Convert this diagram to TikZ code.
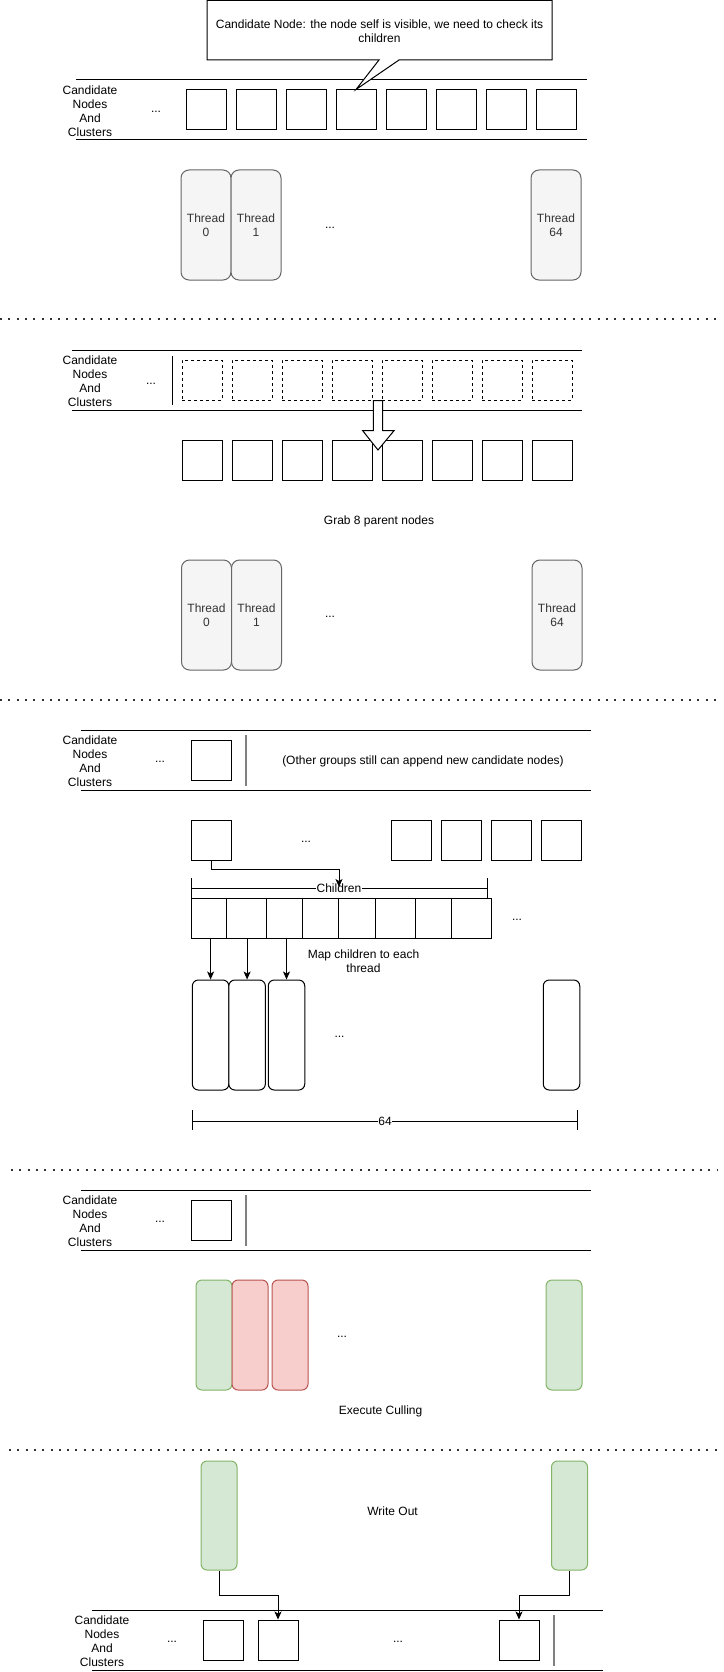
\documentclass[tikz,border=0pt]{standalone}
\usepackage{fontspec}
\setmainfont{Liberation Sans}
\usetikzlibrary{arrows.meta}
\definecolor{thrfill}{HTML}{F5F5F5}
\definecolor{thrline}{HTML}{666666}
\definecolor{thrtext}{HTML}{333333}
\definecolor{gfill}{HTML}{D5E8D4}
\definecolor{gline}{HTML}{82B366}
\definecolor{rfill}{HTML}{F8CECC}
\definecolor{rline}{HTML}{B85450}
\definecolor{barcol}{HTML}{808080}
\begin{document}
\begin{tikzpicture}[x=1pt,y=-1pt,line width=1pt,
  every node/.style={font=\fontsize{12}{14}\selectfont,inner sep=0pt},
  box/.style={draw,fill=white,minimum width=40pt,minimum height=40pt},
  dbox/.style={box,dash pattern=on 3pt off 3pt},
  thr/.style={draw=thrline,fill=thrfill,rounded corners=8pt,minimum width=50pt,minimum height=110pt,text=thrtext,align=center},
  wthr/.style={draw,fill=white,rounded corners=6pt,minimum width=36.5pt,minimum height=110pt},
  gthr/.style={draw=gline,fill=gfill,rounded corners=6pt,minimum width=36pt,minimum height=110pt},
  rthr/.style={draw=rline,fill=rfill,rounded corners=6pt,minimum width=36pt,minimum height=110pt},
  lab/.style={align=center},
  dotline/.style={black!80,line width=2pt,dash pattern=on 2pt off 6.3pt},
  bar/.style={barcol,line width=2pt},
  conn/.style={-{Stealth[length=8pt,width=7pt,inset=2pt]}},
  dimlab/.style={fill=white,inner sep=0.5pt}
]
\fill[white] (0,0) rectangle (723,1672);
\useasboundingbox (0,0) rectangle (723,1672);

% ---------------- Section 1
\draw (76,80) -- (587,80);
\draw (76,140) -- (587,140);
\node[lab] (lab1) at (90,111) {Candidate\\Nodes\\And\\Clusters};
\node (dt1) at (156,112) {...};
\foreach \k in {0,...,7} \node[box] (a\k) at ({206+50*\k},110) {};
\draw[fill=white] (207,0.5) -- (552,0.5) -- (552,60) -- (399,60) -- (a3.north) -- (379,60) -- (207,60) -- cycle;
\node[lab] (call) at (379.5,31) {Candidate Node: the node self is visible, we need to check its\\children};
\node[thr] (t10) at (206,225) {Thread\\0};
\node[thr] (t11) at (256,225) {Thread\\1};
\node[thr] (t164) at (556,225) {Thread\\64};
\node (dt2) at (330,228) {...};

\draw[dotline] (0,319) -- (720,319);

% ---------------- Section 2
\draw (72,350) -- (582,350);
\draw (72,410) -- (582,410);
\node[lab] (lab2) at (90,381) {Candidate\\Nodes\\And\\Clusters};
\node (dt3) at (151,384) {...};
\draw (172,356) -- (172,405);
\foreach \k in {0,...,7} \node[dbox] (d\k) at ({202+50*\k},380) {};
\foreach \k in {0,...,7} \node[box] (p\k) at ({202+50*\k},460) {};
\draw[fill=white,line join=miter] (373.3,400.5) -- (382.7,400.5) -- (382.7,430.7) -- (394,430.7) -- (378,450) -- (362.7,430.7) -- (373.3,430.7) -- cycle;
\node (grab) at (379,521) {Grab 8 parent nodes};
\node[thr] (t20) at (206.5,615) {Thread\\0};
\node[thr] (t21) at (256.5,615) {Thread\\1};
\node[thr] (t264) at (557,615) {Thread\\64};
\node (dt4) at (330,617) {...};

\draw[dotline] (0,700) -- (720,700);

% ---------------- Section 3
\draw (81,730) -- (591,730);
\draw (81,790) -- (591,790);
\node[lab] (lab3) at (90,761) {Candidate\\Nodes\\And\\Clusters};
\node (dt5) at (160,762) {...};
\node[box] (c0) at (211,760) {};
\draw[bar] (246,735) -- (246,786);
\node (other) at (423,761) {(Other groups still can append new candidate nodes)};
\node[box] (r0) at (211,840) {};
\node[box] (r1) at (411,840) {};
\node[box] (r2) at (461,840) {};
\node[box] (r3) at (511,840) {};
\node[box] (r4) at (561,840) {};
\node (dt6) at (306,842) {...};
% children dimension
\coordinate (chl) at (191,888);
\coordinate (chr) at (487,888);
\draw (191,878) -- (191,898);
\draw (487,878) -- (487,898);
\draw (chl) -- (chr);
\node[dimlab] (chlab) at (339,888) {Children};
\coordinate (chtip) at (339,887);
\draw[conn] (r0.south) -- (211,869.5) -| (chtip);
% children cells
\foreach \a/\b [count=\i] in {191/226.7,226.7/266.7,266.7/302.7,302.7/338.5,338.5/375,375/415,415/451,451/491}
  \node[draw,minimum height=40pt,minimum width={(\b-\a)*1pt}] (cell\i) at ({(\a+\b)/2},918) {};
\node (dt7) at (517,920) {...};
\node[lab] (map) at (363.5,961) {Map children to each\\thread};
\node[wthr] (w1) at (210.6,1035) {};
\node[wthr] (w2) at (247.1,1035) {};
\node[wthr] (w3) at (286.5,1035) {};
\node[wthr] (w64) at (561.5,1035) {};
\draw[conn] (w1.north |- cell1.south) -- (w1.north);
\draw[conn] (w2.north |- cell2.south) -- (w2.north);
\draw[conn] (w3.north |- cell3.south) -- (w3.north);
\node (dt8) at (339.5,1037) {...};
\coordinate (dl) at (192.6,1121);
\coordinate (dr) at (577,1121);
\draw (192.6,1110) -- (192.6,1130);
\draw (577,1110) -- (577,1130);
\draw (dl) -- (dr);
\node[dimlab] (n64) at (385,1121) {64};

\draw[dotline] (11,1170) -- (718,1170);

% ---------------- Section 4
\draw (81,1190) -- (591,1190);
\draw (81,1250) -- (591,1250);
\node[lab] (lab4) at (90,1221) {Candidate\\Nodes\\And\\Clusters};
\node (dt9) at (160,1222) {...};
\node[box] (e0) at (211,1220) {};
\draw[bar] (246,1195) -- (246,1246);
\node[gthr] (g1) at (214,1335) {};
\node[rthr] (x2) at (250,1335) {};
\node[rthr] (x3) at (290,1335) {};
\node[gthr] (g64) at (564,1335) {};
\node (dt10) at (342,1337) {...};
\node (cull) at (380.6,1411) {Execute Culling};

\draw[dotline] (9,1450) -- (718,1450);

% ---------------- Section 5
\node[gthr,minimum height=109pt] (o1) at (219,1515.5) {};
\node[gthr,minimum height=109pt] (o64) at (569.5,1515.5) {};
\node (wout) at (392.6,1511) {Write Out};
\draw (92,1610) -- (603,1610);
\draw (92,1670) -- (603,1670);
\node[lab] (lab5) at (102,1641) {Candidate\\Nodes\\And\\Clusters};
\node (dt11) at (172,1642) {...};
\node[box] (f0) at (223,1640) {};
\node[box] (f1) at (278,1640) {};
\node[box] (f2) at (519,1640) {};
\node (dt12) at (398,1642) {...};
\draw[bar] (554,1615) -- (554,1666);
\draw[conn] (o1.south) -- (219,1595) -| (f1.north);
\draw[conn] (o64.south) -- (569.5,1595) -| (f2.north);
\end{tikzpicture}
\end{document}
